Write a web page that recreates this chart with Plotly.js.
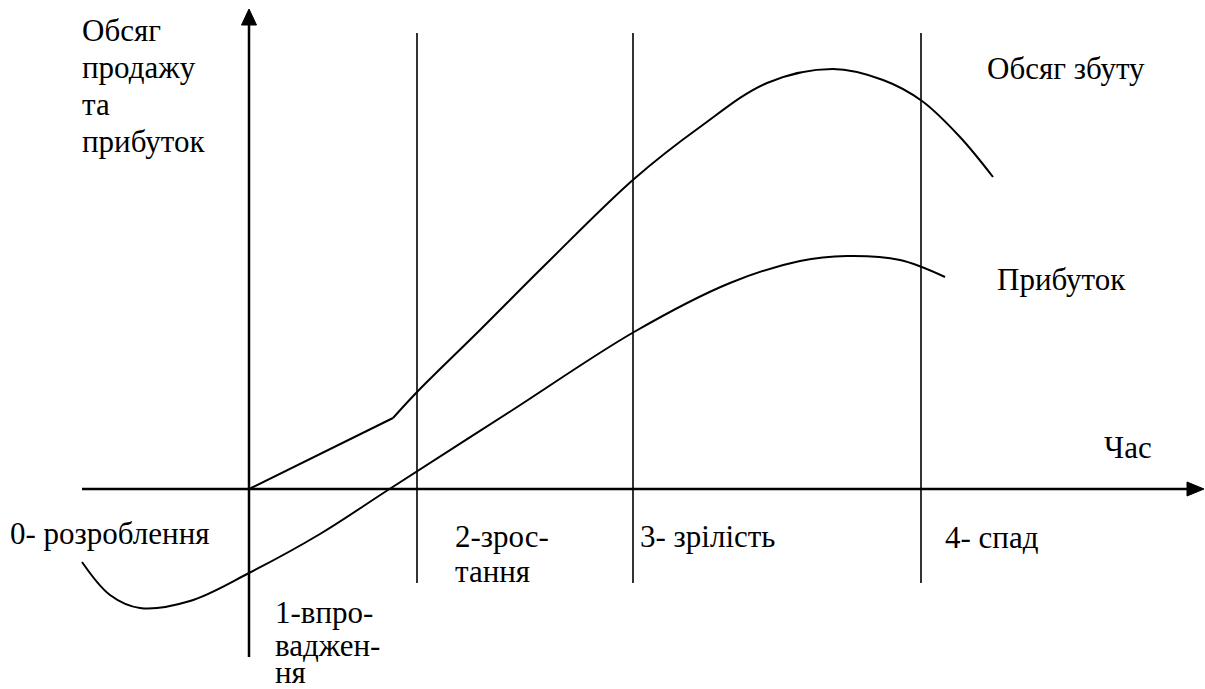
<!DOCTYPE html>
<html>
<head>
<meta charset="utf-8">
<script src="https://cdn.plot.ly/plotly-3.0.1.min.js"></script>
<style>
html,body{margin:0;padding:0;background:#fff;}
#chart{width:1205px;height:689px;}
#chart text.annotation-text{font-family:"Liberation Serif" !important;}
</style>
</head>
<body>
<div id="chart"></div>
<script>
// Time positions and values (value 0 = time axis)
const salesTime  = [249, 393, 418, 480, 547, 634, 700, 767, 833, 883, 922, 960, 993];
const salesValue = [0, 71, 98, 159, 226, 310, 362, 406, 420, 409, 388, 352, 312];

const profitTime  = [82, 110, 140, 190, 249, 320, 388, 511, 634, 730, 800, 847, 900, 945];
const profitValue = [-73, -106, -119, -112, -84, -45, -1, 78, 157, 206, 228, 233, 229, 212];

// Stage boundaries on the time axis
const stageBounds = [417, 633, 921];
const originTime = 249;

const yTitleLines = ["Обсяг", "продажу", "та", "прибуток"];
const salesLabel = "Обсяг збуту";
const profitLabel = "Прибуток";
const timeLabel = "Час";
const stageLabels = [
  ["0- розроблення"],
  ["1-впро-", "ваджен-", "ня"],
  ["2-зрос-", "тання"],
  ["3- зрілість"],
  ["4- спад"]
];

const fontFamilies = ["Liberation Serif"];
const FONT_SIZE = 31;
const TOP = 489; // value at top edge (pixel row 0)

function ann(text, x, baselinePx) {
  return {text: text, x: x, y: TOP - baselinePx + 10, xref: "x", yref: "y",
          xanchor: "left", yanchor: "middle", showarrow: false,
          font: {family: fontFamilies[0], size: FONT_SIZE, color: "#000"}};
}

const traces = [
  {x: salesTime.slice(0, 2), y: salesValue.slice(0, 2), mode: "lines", line: {color: "#000", width: 2, shape: "linear"}, hoverinfo: "skip"},
  {x: salesTime.slice(1), y: salesValue.slice(1), mode: "lines", line: {color: "#000", width: 2, shape: "spline", smoothing: 1}, hoverinfo: "skip"},
  {x: profitTime, y: profitValue, mode: "lines", line: {color: "#000", width: 2, shape: "spline", smoothing: 1}, hoverinfo: "skip"}
];

const shapes = [];
// time axis
shapes.push({type: "line", x0: 82, x1: 1190, y0: 0, y1: 0, line: {color: "#000", width: 2.5}});
shapes.push({type: "path", path: "M1187,7 L1204,0 L1187,-7 Z", fillcolor: "#000", line: {color: "#000", width: 1}});
// value axis
shapes.push({type: "line", x0: originTime, x1: originTime, y0: TOP - 657, y1: TOP - 24, line: {color: "#000", width: 2.5}});
shapes.push({type: "path", path: `M${originTime-7.5},${TOP-25} L${originTime},${TOP-9} L${originTime+7.5},${TOP-25} Z`, fillcolor: "#000", line: {color: "#000", width: 1}});
// stage dividers
stageBounds.forEach(b => shapes.push({type: "line", x0: b, x1: b, y0: TOP - 583, y1: TOP - 33, line: {color: "#000", width: 1.6}}));

const annotations = [];
const titleBase = [40, 77, 114, 151];
yTitleLines.forEach((t, i) => annotations.push(ann(t, 80, titleBase[i])));
annotations.push(ann(salesLabel, 985, 78));
annotations.push(ann(profitLabel, 995, 289));
annotations.push(ann(timeLabel, 1102, 457));
const stageX = [8, 273, 453, 638, 943];
const stageBase = [[543], [622, 655, 682], [546, 581], [546], [547]];
stageLabels.forEach((lines, i) => lines.forEach((t, j) => annotations.push(ann(t, stageX[i], stageBase[i][j]))));

const layout = {
  width: 1205, height: 689,
  margin: {l: 0, r: 0, t: 0, b: 0, pad: 0},
  paper_bgcolor: "#fff", plot_bgcolor: "#fff",
  showlegend: false,
  xaxis: {range: [0, 1205], visible: false, fixedrange: true},
  yaxis: {range: [TOP - 689, TOP], visible: false, fixedrange: true},
  shapes: shapes,
  annotations: annotations
};

Plotly.newPlot("chart", traces, layout, {staticPlot: true}).then(function (gd) {
  gd.querySelectorAll("text.annotation-text").forEach(function (el) {
    el.style.fontFamily = '"Liberation Serif"';
  });
});
</script>
</body>
</html>
